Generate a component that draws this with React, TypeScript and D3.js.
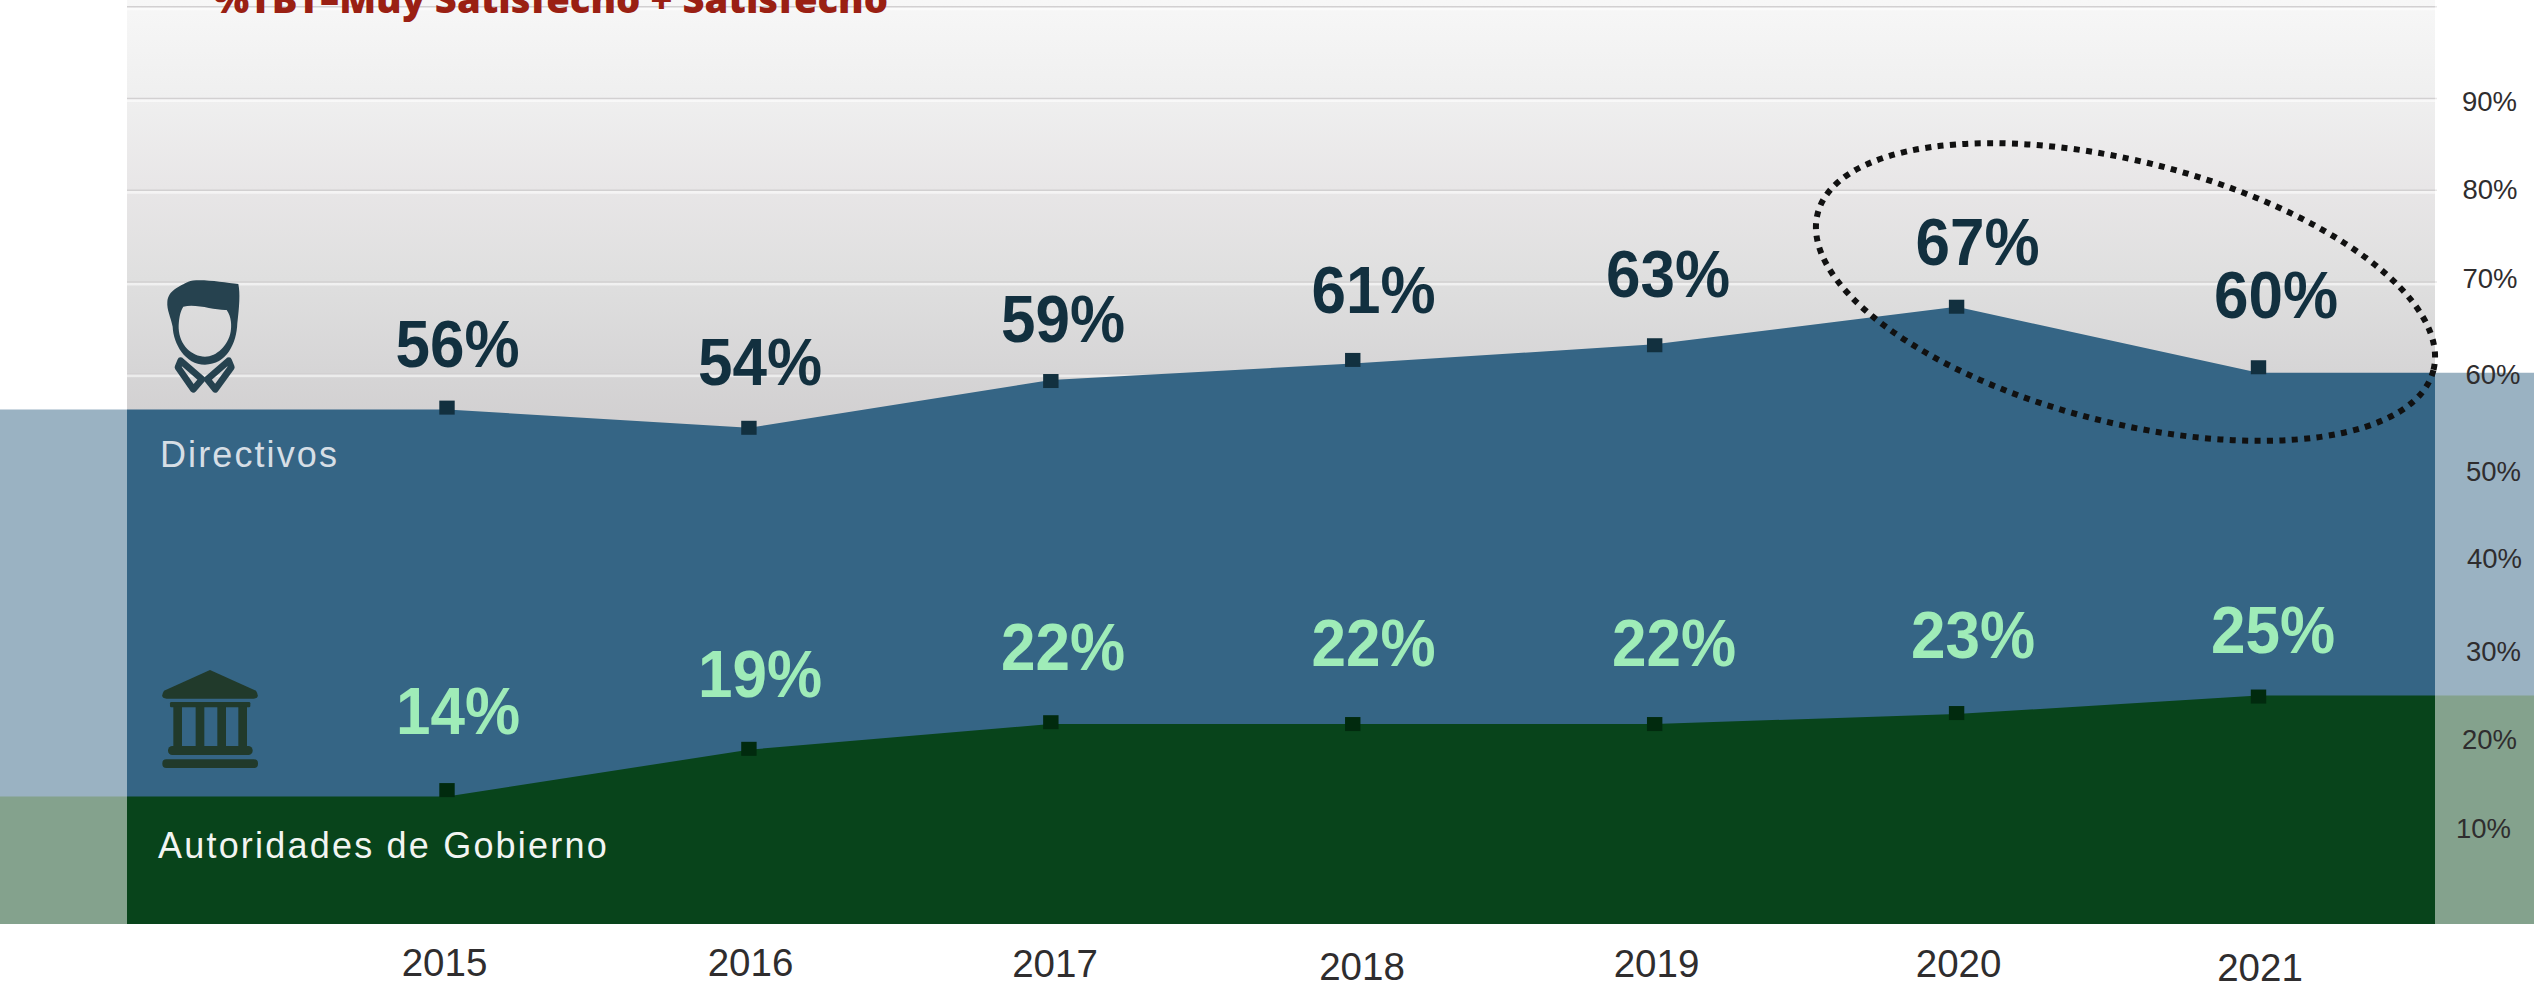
import React from "react";
import * as d3 from "d3";

// ---- data ----
const years = [2015, 2016, 2017, 2018, 2019, 2020, 2021];
const directivosArea = [56.1, 54.1, 59.3, 61.1, 63.2, 67.3, 60.1];
const gobiernoArea = [13.9, 19.0, 21.8, 21.8, 21.8, 22.9, 24.9];
const directivosMarkers = [56.3, 54.1, 59.2, 61.5, 63.1, 67.3, 60.7];
const gobiernoMarkers = [14.6, 19.1, 22, 21.8, 21.8, 23, 24.8];
const directivosLabels = ["56%", "54%", "59%", "61%", "63%", "67%", "60%"];
const gobiernoLabels = ["14%", "19%", "22%", "22%", "22%", "23%", "25%"];
const gridTicks = [60, 70, 80, 90, 100];
const rightLabels = ["90%", "80%", "70%", "60%", "50%", "40%", "30%", "20%", "10%"];
const title = "%TBT–Muy Satisfecho + Satisfecho";

// ---- layout (hand-placed offsets of the original slide) ----
const W = 2534, H = 987, L = 127, R = 2435;
const dirLabelPos: [number, number][] = [[457.5, 366.7], [760, 385], [1063, 341.7], [1373.5, 312.7], [1668, 296.7], [1977.5, 265], [2276, 317.7]];
const govLabelPos: [number, number][] = [[458, 734], [760, 696.7], [1063, 670.3], [1373.5, 666], [1674, 666], [1973, 657.7], [2273, 652.7]];
const yearPos: [number, number][] = [[444.5, 976], [750.5, 976], [1055, 977], [1362, 980], [1656.5, 977], [1958.6, 977], [2260, 980.7]];
const rightPos: [number, number][] = [[2462, 111], [2462.5, 199], [2462.5, 287.7], [2465.5, 384], [2466, 481], [2467, 568], [2466, 660.7], [2462, 749], [2456, 838]];

const x = d3.scaleLinear().domain([2015, 2021]).range([447, 2258.5]);
const y = d3.scaleLinear().domain([0, 100]).range([924, 6.8]);

function areaPath(vals: number[]) {
  const pts: [number, number][] = [[0, vals[0]], ...years.map((yr, i) => [x(yr), vals[i]] as [number, number]), [W, vals[vals.length - 1]]];
  return d3.area<[number, number]>().x((d) => d[0]).y0(y(0)).y1((d) => y(d[1]))(pts) || "";
}

const gradStops: [number, string][] = [[0, "#f7f7f7"], [100, "#efefef"], [188, "#e8e6e7"], [280, "#dfdfdf"], [372, "#d6d5d6"], [430, "#d1cfd0"]];

function Person() {
  return (
    <g transform="translate(130,260) scale(0.3333)">
      <path fillRule="evenodd" fill="#26424f"
        d="M112 125 C115 90 150 78 175 65 C200 54 280 66 325 72 C331 100 328 140 322 190 C320 250 290 314 225 314 C165 314 130 250 128 200 C122 170 110 150 112 125 Z M160 140 C200 130 255 152 290 150 C305 170 305 200 302 215 C295 255 260 290 225 290 C185 290 148 255 146 205 C146 180 150 155 160 140 Z" />
      <path fill="none" stroke="#26424f" strokeWidth="20" strokeLinejoin="round" d="M152 302 L216 358 L190 388 L144 322 Z" />
      <path fill="none" stroke="#26424f" strokeWidth="20" strokeLinejoin="round" d="M296 302 L232 358 L256 388 L304 322 Z" />
    </g>
  );
}

function Temple() {
  const c = "#213a2b";
  return (
    <g transform="translate(130,650) scale(0.3333)" fill={c}>
      <path d="M240 60 L378 122 Q392 145 370 146 L110 146 Q88 145 102 122 Z" />
      <rect x="120" y="156" width="241" height="16" rx="4" />
      {[130, 197, 262, 325].map((cx) => <rect key={cx} x={cx} y="170" width="26" height="122" />)}
      <rect x="114" y="288" width="254" height="27" rx="13" />
      <rect x="97" y="328" width="287" height="26" rx="12" />
    </g>
  );
}

export default function App() {
  const sans = "'Liberation Sans', Arial, sans-serif";
  const stretch = (p: [number, number]) => `translate(${p[0]},${p[1]}) scale(1,1.07)`;
  return (
    <svg width={W} height={H} viewBox={`0 0 ${W} ${H}`} style={{ position: "absolute", left: 0, top: 0, background: "#fff" }}>
      <defs>
        <linearGradient id="bg" gradientUnits="userSpaceOnUse" x1="0" y1="0" x2="0" y2="430">
          {gradStops.map(([p, c]) => <stop key={p} offset={p / 430} stopColor={c} />)}
        </linearGradient>
      </defs>
      <rect x={L} y={0} width={R - L} height={430} fill="url(#bg)" />
      {gridTicks.map((t) => (
        <g key={t}>
          <rect x={L} y={y(t) + 0.5} width={R - L + 2} height={3} fill="#ffffff" opacity={0.55} />
          <line x1={L} x2={R + 2} y1={y(t)} y2={y(t)} stroke="#d2d0d1" strokeWidth={1.5} />
        </g>
      ))}
      <text x={213} y={13.3} fontFamily="'Open Sans', sans-serif" fontWeight={800} fontSize={37} fill="#9a2013" textLength={675} lengthAdjust="spacingAndGlyphs">{title}</text>

      <path d={areaPath(directivosArea)} fill="#356585" />
      <path d={areaPath(gobiernoArea)} fill="#08441b" />
      <rect x={0} y={0} width={L} height={924} fill="#fff" opacity={0.5} />
      <rect x={R} y={0} width={W - R} height={924} fill="#fff" opacity={0.5} />

      {years.map((yr, i) => (
        <rect key={yr} x={x(yr) - 7.7} y={y(directivosMarkers[i]) - 7} width={15.4} height={14} fill="#12303f" />
      ))}
      {years.map((yr, i) => (
        <rect key={yr} x={x(yr) - 7.7} y={y(gobiernoMarkers[i]) - 7} width={15.4} height={14} fill="#012a0e" />
      ))}

      {directivosLabels.map((t, i) => (
        <text key={i} transform={stretch(dirLabelPos[i])} textAnchor="middle" fontFamily={sans} fontWeight={700} fontSize={62} fill="#12303f">{t}</text>
      ))}
      {gobiernoLabels.map((t, i) => (
        <text key={i} transform={stretch(govLabelPos[i])} textAnchor="middle" fontFamily={sans} fontWeight={700} fontSize={62} fill="#9fecb8">{t}</text>
      ))}

      {years.map((yr, i) => (
        <text key={yr} x={yearPos[i][0]} y={yearPos[i][1]} textAnchor="middle" fontFamily={sans} fontSize={38.5} fill="#2f2d2e">{yr}</text>
      ))}
      {rightLabels.map((t, i) => (
        <text key={t} x={rightPos[i][0]} y={rightPos[i][1]} fontFamily={sans} fontSize={27.5} fill="#2f2d2e">{t}</text>
      ))}

      <text x={160} y={467} fontFamily={sans} fontSize={36} letterSpacing={2.1} fill="#d6dee5">Directivos</text>
      <text x={158} y={858} fontFamily={sans} fontSize={36} letterSpacing={2.2} fill="#f2f5f2">Autoridades de Gobierno</text>

      <Person />
      <Temple />

      <ellipse cx={2125.5} cy={292} rx={317.7} ry={130.6} transform="rotate(14.27 2125.5 292)" fill="none" stroke="#111" strokeWidth={6} strokeDasharray="6 6.4" />
    </svg>
  );
}
